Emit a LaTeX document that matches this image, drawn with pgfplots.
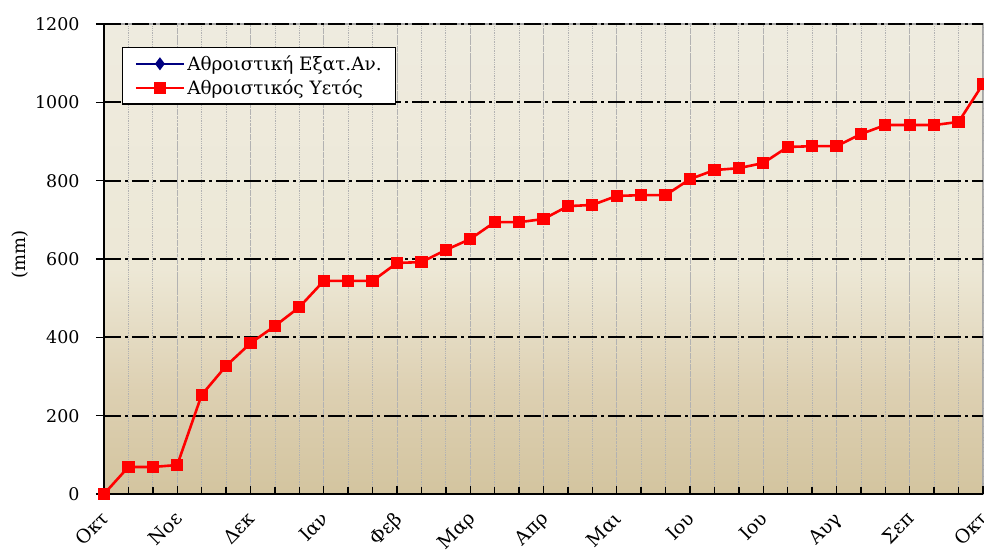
\documentclass[border=0pt]{standalone}
\usepackage{fontspec}
\setmainfont{DejaVu Serif}
\usepackage{pgfplots}
\pgfplotsset{compat=1.18}
\definecolor{bgtop}{HTML}{EEEBDF}
\definecolor{bgmid}{HTML}{EDE8D6}
\definecolor{bglow}{HTML}{DDD0B2}
\definecolor{bgbot}{HTML}{D3C49F}
\definecolor{rainred}{HTML}{FF0000}
\definecolor{evapblue}{HTML}{000080}
\pgfdeclareverticalshading{chartbg}{100bp}{color(0bp)=(bgbot); color(25bp)=(bgbot); color(36bp)=(bglow); color(49bp)=(bgmid); color(75bp)=(bgtop); color(100bp)=(bgtop)}
\begin{document}
\begin{tikzpicture}
\begin{axis}[
  at={(0,0)}, anchor=south west,
  scale only axis, width=879bp, height=470bp,
  xmin=0, xmax=36, ymin=0, ymax=1200,
  axis background/.style={shading=chartbg, draw=gray!70, line width=1.5bp},
  axis x line*=bottom, axis y line*=left,
  axis line style={-, line width=2.2bp, black},
  xtick={0,3,...,36},
  minor xtick={0,1,...,36},
  xticklabels={Οκτ,Νοε,Δεκ,Ιαν,Φεβ,Μαρ,Απρ,Μαι,Ιου,Ιου,Αυγ,Σεπ,Οκτ},
  xtick align=inside,
  ytick={0,200,...,1200},
  ytick align=outside,
  major tick length=8bp, minor tick length=7bp,
  tick style={black, line width=1.4bp},
  xmajorgrids, xminorgrids, ymajorgrids,
  x grid style={gray!60, densely dotted, line width=0.8bp},
  minor x grid style={gray!60, densely dotted, line width=0.8bp},
  y grid style={black, line width=1.8bp, dash pattern=on 17bp off 4bp on 3bp off 4bp},
  /pgf/number format/assume math mode=true,
  /pgf/number format/1000 sep={},
  scaled ticks=false,
  yticklabel style={font=\fontsize{17.5}{21}\selectfont, xshift=-13bp},
  x tick label style={font=\fontsize{19}{23}\selectfont, xshift=-4bp, yshift=-16bp, rotate=45, anchor=north east, inner sep=0pt},
  ylabel={(mm)},
  ylabel style={at={(axis description cs:-0.0955,0.51)}, anchor=center, font=\fontsize{18}{22}\selectfont},
  clip=false,
  legend style={at={(0.0205,0.951)}, anchor=north west, draw=black, line width=1.3bp, fill=white,
    font=\fontsize{18.5}{22}\selectfont, inner xsep=12bp, inner ysep=6bp, row sep=4bp},
  legend cell align=left,
  legend image code/.code={\draw[mark repeat=2,mark phase=2,#1] plot coordinates {(0bp,0bp) (24bp,0bp) (48bp,0bp)};},
]
\addlegendimage{evapblue, line width=2.5bp, mark=diamond*, mark size=4.5bp, mark options={solid, fill=evapblue}}
\addlegendentry{Αθροιστική Εξατ.Αν.}
\addplot[rainred, line width=2.6bp, mark=square*, mark size=4.8bp, mark options={solid, fill=rainred}] coordinates {
(0,0) (1,69) (2,69) (3,74) (4,253) (5,327) (6,385) (7,429) (8,477)
(9,544) (10,544) (11,544) (12,590) (13,592) (14,623) (15,651) (16,694)
(17,694) (18,702) (19,735) (20,738) (21,761) (22,763) (23,763) (24,804)
(25,827) (26,832) (27,845) (28,886) (29,888) (30,888) (31,919) (32,942)
(33,942) (34,942) (35,950) (36,1047)
};
\addlegendentry{Αθροιστικός Υετός}
\end{axis}
\pgfresetboundingbox
\path[use as bounding box] (-104bp,-57bp) rectangle (880bp,494bp);
\end{tikzpicture}
\end{document}
